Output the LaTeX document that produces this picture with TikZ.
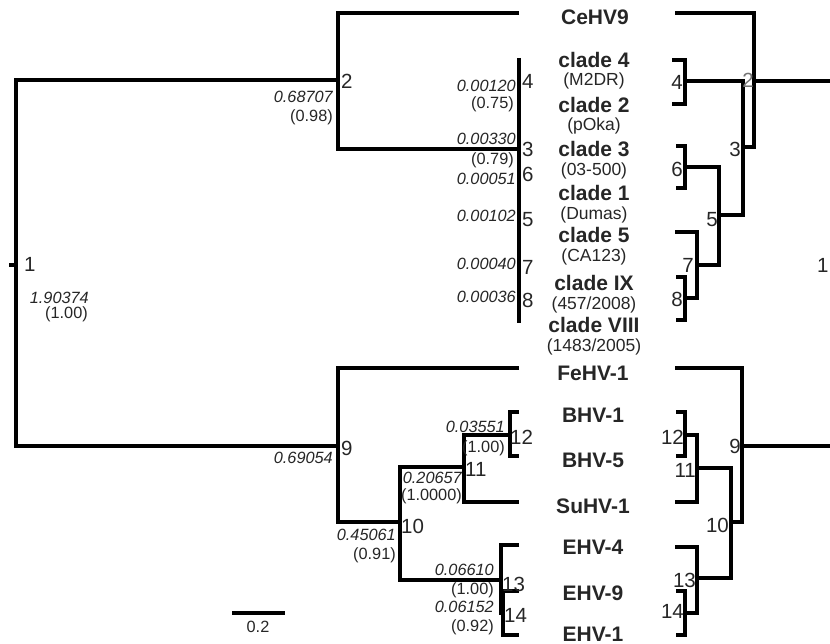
\documentclass[tikz,border=0pt]{standalone}
\usepackage{fontspec}
\setmainfont{Liberation Sans}
\begin{document}
\begin{tikzpicture}[x=1pt,y=-1pt,
  br/.style={line width=3.1pt,black,line join=miter},
  nm/.style={anchor=base,inner sep=0pt,text=black!85,font=\fontsize{21}{24}\selectfont\bfseries},
  sb/.style={anchor=base,inner sep=0pt,text=black!85,font=\fontsize{17.5}{20}\selectfont},
  num/.style={inner sep=0pt,text=black!85,font=\fontsize{20.5}{24}\selectfont},
  nl/.style={num,anchor=base west},
  nr/.style={num,anchor=base east},
  val/.style={anchor=base east,inner sep=0pt,text=black!85,font=\fontsize{16.3}{19}\selectfont\itshape},
  sup/.style={anchor=base east,inner sep=0pt,text=black!85,font=\fontsize{16.3}{19}\selectfont}]
\useasboundingbox (0,0) rectangle (830,644);

% ---------- left tree coordinates ----------
\coordinate (l1s) at (9,265);
\coordinate (l1) at (16,265);
\coordinate (l2) at (338,80);
\coordinate (lCe) at (519,13);
\coordinate (l3) at (519,149);
\coordinate (lcTop) at (519,58);
\coordinate (lcBot) at (519,323);
\coordinate (l9) at (338,446);
\coordinate (lFe) at (519,368);
\coordinate (l10) at (400,522);
\coordinate (l11) at (464,467);
\coordinate (l12) at (510,435);
\coordinate (lB1) at (519,412);
\coordinate (lB5) at (519,456);
\coordinate (lSu) at (519,502);
\coordinate (l13) at (501,580);
\coordinate (lE4) at (519,545);
\coordinate (l14) at (503,613);
\coordinate (lE9) at (519,591);
\coordinate (lE1) at (519,635);

\draw[br] (l1s) -- (l1);
\draw[br] (l2) -| (l1) |- (l9);
\draw[br] (lCe) -| (l2) |- (l3);
\draw[br] (lcTop) -- (lcBot);
\draw[br] (lFe) -| (l9) |- (l10);
\draw[br] (l11) -| (l10) |- (l13);
\draw[br] (l12) -| (l11) |- (lSu);
\draw[br] (lB1) -| (l12) |- (lB5);
\draw[br] (lE4) -| (l13) |- (l14);
\draw[br] (lE9) -| (l14) |- (lE1);

% ---------- right tree coordinates ----------
\coordinate (rCe) at (675,13);
\coordinate (r2) at (754,81);
\coordinate (rR1) at (830,81);
\coordinate (r3) at (743,147);
\coordinate (r4) at (685,81);
\coordinate (r4a) at (672,60);
\coordinate (r4b) at (672,104);
\coordinate (r5) at (719,215);
\coordinate (r6) at (685,167);
\coordinate (r6a) at (676,146);
\coordinate (r6b) at (676,188);
\coordinate (r7) at (697,265);
\coordinate (rC5) at (675,232);
\coordinate (r8) at (685,298);
\coordinate (r8a) at (676,277);
\coordinate (r8b) at (676,320);
\coordinate (r9) at (742,446);
\coordinate (rR9) at (830,446);
\coordinate (rFe) at (675,368);
\coordinate (r10) at (731,522);
\coordinate (r11) at (697,468);
\coordinate (r12) at (685,435);
\coordinate (r12a) at (676,412);
\coordinate (r12b) at (676,456);
\coordinate (rSu) at (675,502);
\coordinate (r13) at (697,578);
\coordinate (rE4) at (675,547);
\coordinate (r14) at (685,613);
\coordinate (r14a) at (676,591);
\coordinate (r14b) at (676,635);

\draw[br] (rCe) -| (r2) |- (r3);
\draw[br] (r2) -- (rR1);
\draw[br] (r4) -| (r3) |- (r5);
\draw[br] (r4a) -| (r4) |- (r4b);
\draw[br] (r6a) -| (r6) |- (r6b);
\draw[br] (r6) -| (r5) |- (r7);
\draw[br] (rC5) -| (r7) |- (r8);
\draw[br] (r8a) -| (r8) |- (r8b);
\draw[br] (rFe) -| (r9) |- (r10);
\draw[br] (r9) -- (rR9);
\draw[br] (r11) -| (r10) |- (r13);
\draw[br] (r12) -| (r11) |- (rSu);
\draw[br] (r12a) -| (r12) |- (r12b);
\draw[br] (rE4) -| (r13) |- (r14);
\draw[br] (r14a) -| (r14) |- (r14b);

% scale bar
\coordinate (sb1) at (232,613);
\coordinate (sb2) at (285,613);
\draw[br] (sb1) -- (sb2);
\node[sup,anchor=base] (sbl) at (258,632) {0.2};

% ---------- taxon names ----------
\node[nm] (tCe) at (595,25) {CeHV9};
\node[nm] (t4) at (594,68) {clade 4};
\node[sb] (s4) at (594,86) {(M2DR)};
\node[nm] (t2) at (594,113) {clade 2};
\node[sb] (s2) at (594,131) {(pOka)};
\node[nm] (t3) at (594,157) {clade 3};
\node[sb] (s3) at (594,176) {(03-500)};
\node[nm] (t1) at (594,201) {clade 1};
\node[sb] (s1) at (594,220) {(Dumas)};
\node[nm] (t5) at (594,243) {clade 5};
\node[sb] (s5) at (594,262) {(CA123)};
\node[nm] (tIX) at (594,291) {clade IX};
\node[sb] (sIX) at (594,309) {(457/2008)};
\node[nm] (tVIII) at (594,332) {clade VIII};
\node[sb] (sVIII) at (594,352) {(1483/2005)};
\node[nm] (tFe) at (593,380) {FeHV-1};
\node[nm] (tB1) at (593,422) {BHV-1};
\node[nm] (tB5) at (593,467) {BHV-5};
\node[nm] (tSu) at (593,513) {SuHV-1};
\node[nm] (tE4) at (593,554) {EHV-4};
\node[nm] (tE9) at (593,600) {EHV-9};
\node[nm] (tE1) at (593,641) {EHV-1};

% ---------- left node numbers ----------
\node[nl] (n1) at (24,272) {1};
\node[nl] (n2) at (341,89) {2};
\node[nl] (n4) at (522,89) {4};
\node[nl] (n3) at (522,157) {3};
\node[nl] (n6) at (522,182) {6};
\node[nl] (n5) at (522,227) {5};
\node[nl] (n7) at (522,275) {7};
\node[nl] (n8) at (522,308) {8};
\node[nl] (n9) at (341,455) {9};
\node[nl] (n10) at (401,533) {10};
\node[nl] (n11) at (465,476) {11};
\node[nl] (n12) at (510,444) {12};
\node[nl] (n13) at (502,591) {13};
\node[nl] (n14) at (504,622) {14};

% ---------- right node numbers ----------
\node[nr] (m4) at (683,90) {4};
\node[nr,text=black!55] (m2) at (754,88) {2};
\node[nr] (m3) at (741,157) {3};
\node[nr] (m6) at (683,177) {6};
\node[nr] (m5) at (718,227) {5};
\node[nr] (m7) at (694,273) {7};
\node[nr] (m8) at (683,307) {8};
\node[nl] (m1) at (817,273) {1};
\node[nr] (m12) at (684,444) {12};
\node[nr] (m11) at (696,477) {11};
\node[nr] (m9) at (741,453) {9};
\node[nr] (m10) at (729,532) {10};
\node[nr] (m13) at (696,587) {13};
\node[nr] (m14) at (684,618) {14};

% ---------- branch values ----------
\node[val] (v2) at (333,103) {0.68707};
\node[sup] (p2) at (333,122) {(0.98)};
\node[val] (v1) at (89,304) {1.90374};
\node[sup] (p1) at (88,319) {(1.00)};
\node[val] (v4) at (516,92) {0.00120};
\node[sup] (p4) at (514,109) {(0.75)};
\node[val] (v3) at (516,145) {0.00330};
\node[sup] (p3) at (514,165) {(0.79)};
\node[val] (v6) at (516,185) {0.00051};
\node[val] (v5) at (516,222) {0.00102};
\node[val] (v7) at (516,270) {0.00040};
\node[val] (v8) at (516,303) {0.00036};
\node[val] (v9) at (333,463) {0.69054};
\node[val] (v10) at (396,540) {0.45061};
\node[sup] (p10) at (396,559) {(0.91)};
\node[val] (v11) at (462,483) {0.20657};
\node[sup] (p11) at (462,500) {(1.0000)};
\node[val] (v12) at (505,432) {0.03551};
\node[sup] (p12) at (505,452) {(1.00)};
\node[val] (v13) at (494,575) {0.06610};
\node[sup] (p13) at (494,594) {(1.00)};
\node[val] (v14) at (494,612) {0.06152};
\node[sup] (p14) at (494,631) {(0.92)};
\end{tikzpicture}
\end{document}
